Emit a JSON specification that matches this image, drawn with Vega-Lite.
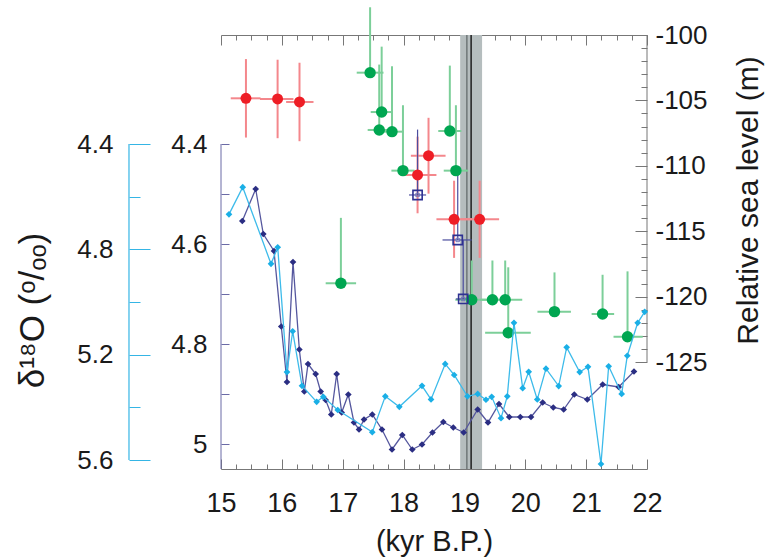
{
  "$schema": "https://vega.github.io/schema/vega-lite/v6.json",
  "width": 426,
  "height": 434,
  "autosize": {"type": "none"},
  "padding": {"left": 221, "top": 35, "right": 118, "bottom": 90},
  "background": "white",
  "config": {
    "view": {"stroke": null},
    "font": "Liberation Sans",
    "axis": {"grid": false, "labelFont": "Liberation Sans", "titleFont": "Liberation Sans", "labelColor": "#1a1a1a", "titleColor": "#1a1a1a", "titleFontWeight": "normal", "labelOverlap": false, "labelFlush": false}
  },
  "datasets": {
    "cyan": [
      {"kyr": 15.131, "d18O": 4.667}, {"kyr": 15.357, "d18O": 4.564}, {"kyr": 15.822, "d18O": 4.855}, {"kyr": 15.932, "d18O": 4.792},
      {"kyr": 16.084, "d18O": 5.266}, {"kyr": 16.178, "d18O": 5.111}, {"kyr": 16.331, "d18O": 5.318}, {"kyr": 16.572, "d18O": 5.379},
      {"kyr": 16.681, "d18O": 5.360}, {"kyr": 16.918, "d18O": 5.410}, {"kyr": 17.486, "d18O": 5.494}, {"kyr": 17.700, "d18O": 5.358},
      {"kyr": 17.930, "d18O": 5.398}, {"kyr": 18.303, "d18O": 5.318}, {"kyr": 18.451, "d18O": 5.370}, {"kyr": 18.684, "d18O": 5.235},
      {"kyr": 18.832, "d18O": 5.277}, {"kyr": 19.050, "d18O": 5.358}, {"kyr": 19.218, "d18O": 5.349}, {"kyr": 19.354, "d18O": 5.371},
      {"kyr": 19.448, "d18O": 5.360}, {"kyr": 19.601, "d18O": 5.441}, {"kyr": 19.704, "d18O": 5.358}, {"kyr": 19.814, "d18O": 5.079},
      {"kyr": 19.957, "d18O": 5.327}, {"kyr": 20.056, "d18O": 5.265}, {"kyr": 20.197, "d18O": 5.370}, {"kyr": 20.340, "d18O": 5.253},
      {"kyr": 20.549, "d18O": 5.319}, {"kyr": 20.680, "d18O": 5.172}, {"kyr": 20.894, "d18O": 5.266}, {"kyr": 21.030, "d18O": 5.246},
      {"kyr": 21.244, "d18O": 5.615}, {"kyr": 21.370, "d18O": 5.244}, {"kyr": 21.584, "d18O": 5.349}, {"kyr": 21.676, "d18O": 5.204},
      {"kyr": 21.847, "d18O": 5.079}, {"kyr": 21.962, "d18O": 5.037}
    ],
    "navy": [
      {"kyr": 15.350, "d18O": 4.554}, {"kyr": 15.570, "d18O": 4.490}, {"kyr": 15.695, "d18O": 4.580}, {"kyr": 15.871, "d18O": 4.614},
      {"kyr": 15.991, "d18O": 4.765}, {"kyr": 16.084, "d18O": 4.876}, {"kyr": 16.183, "d18O": 4.636}, {"kyr": 16.287, "d18O": 4.811},
      {"kyr": 16.369, "d18O": 4.895}, {"kyr": 16.430, "d18O": 4.840}, {"kyr": 16.556, "d18O": 4.860}, {"kyr": 16.638, "d18O": 4.895},
      {"kyr": 16.720, "d18O": 4.912}, {"kyr": 16.812, "d18O": 4.941}, {"kyr": 16.901, "d18O": 4.860}, {"kyr": 16.983, "d18O": 4.937},
      {"kyr": 17.092, "d18O": 4.901}, {"kyr": 17.185, "d18O": 4.957}, {"kyr": 17.268, "d18O": 4.971}, {"kyr": 17.350, "d18O": 4.951},
      {"kyr": 17.486, "d18O": 4.941}, {"kyr": 17.645, "d18O": 4.971}, {"kyr": 17.810, "d18O": 5.011}, {"kyr": 17.979, "d18O": 4.982},
      {"kyr": 18.143, "d18O": 5.011}, {"kyr": 18.303, "d18O": 5.001}, {"kyr": 18.475, "d18O": 4.977}, {"kyr": 18.653, "d18O": 4.956},
      {"kyr": 18.817, "d18O": 4.967}, {"kyr": 18.988, "d18O": 4.977}, {"kyr": 19.218, "d18O": 4.931}, {"kyr": 19.387, "d18O": 4.957},
      {"kyr": 19.568, "d18O": 4.920}, {"kyr": 19.737, "d18O": 4.946}, {"kyr": 19.918, "d18O": 4.946}, {"kyr": 20.094, "d18O": 4.946},
      {"kyr": 20.286, "d18O": 4.917}, {"kyr": 20.460, "d18O": 4.927}, {"kyr": 20.631, "d18O": 4.931}, {"kyr": 20.805, "d18O": 4.901},
      {"kyr": 21.019, "d18O": 4.911}, {"kyr": 21.272, "d18O": 4.881}, {"kyr": 21.535, "d18O": 4.886}, {"kyr": 21.786, "d18O": 4.855}
    ],
    "red": [
      {"kyr": 15.41, "sl": -104.84, "kyr_lo": 15.16, "kyr_hi": 15.65, "sl_lo": -107.84, "sl_hi": -101.84},
      {"kyr": 15.93, "sl": -104.89, "kyr_lo": 15.64, "kyr_hi": 16.19, "sl_lo": -107.89, "sl_hi": -101.89},
      {"kyr": 16.29, "sl": -105.12, "kyr_lo": 16.07, "kyr_hi": 16.52, "sl_lo": -108.12, "sl_hi": -102.12},
      {"kyr": 18.41, "sl": -109.23, "kyr_lo": 18.12, "kyr_hi": 18.69, "sl_lo": -112.13, "sl_hi": -106.33},
      {"kyr": 18.23, "sl": -110.70, "kyr_lo": 17.99, "kyr_hi": 18.54, "sl_lo": -113.63, "sl_hi": -107.77},
      {"kyr": 18.83, "sl": -114.09, "kyr_lo": 18.54, "kyr_hi": 19.13, "sl_lo": -117.04, "sl_hi": -111.14},
      {"kyr": 19.25, "sl": -114.09, "kyr_lo": 18.94, "kyr_hi": 19.57, "sl_lo": -117.04, "sl_hi": -111.14}
    ],
    "green": [
      {"kyr": 17.45, "sl": -102.88, "kyr_lo": 17.23, "kyr_hi": 17.67, "sl_hi": -97.88},
      {"kyr": 17.64, "sl": -105.89, "kyr_lo": 17.46, "kyr_hi": 17.82, "sl_hi": -100.89},
      {"kyr": 17.60, "sl": -107.26, "kyr_lo": 17.41, "kyr_hi": 17.79, "sl_hi": -102.26},
      {"kyr": 17.81, "sl": -107.39, "kyr_lo": 17.62, "kyr_hi": 18.00, "sl_hi": -102.39},
      {"kyr": 17.99, "sl": -110.37, "kyr_lo": 17.80, "kyr_hi": 18.18, "sl_hi": -105.37},
      {"kyr": 18.76, "sl": -107.34, "kyr_lo": 18.57, "kyr_hi": 18.95, "sl_hi": -102.34},
      {"kyr": 18.86, "sl": -110.37, "kyr_lo": 18.66, "kyr_hi": 19.06, "sl_hi": -105.37},
      {"kyr": 19.12, "sl": -120.24, "kyr_lo": 18.85, "kyr_hi": 19.39, "sl_hi": -117.24},
      {"kyr": 19.46, "sl": -120.24, "kyr_lo": 19.26, "kyr_hi": 19.66, "sl_hi": -117.24},
      {"kyr": 19.67, "sl": -120.24, "kyr_lo": 19.39, "kyr_hi": 19.95, "sl_hi": -117.24},
      {"kyr": 19.72, "sl": -122.76, "kyr_lo": 19.34, "kyr_hi": 20.09, "sl_hi": -117.76},
      {"kyr": 20.48, "sl": -121.15, "kyr_lo": 20.20, "kyr_hi": 20.75, "sl_hi": -118.15},
      {"kyr": 21.27, "sl": -121.33, "kyr_lo": 21.09, "kyr_hi": 21.46, "sl_hi": -118.33},
      {"kyr": 21.68, "sl": -123.07, "kyr_lo": 21.45, "kyr_hi": 21.93, "sl_hi": -118.07},
      {"kyr": 16.97, "sl": -118.98, "kyr_lo": 16.72, "kyr_hi": 17.22, "sl_hi": -113.98}
    ],
    "squares": [
      {"kyr": 18.23, "sl": -112.23, "kyr_lo": 18.09, "kyr_hi": 18.37, "sl_hi": -107.23},
      {"kyr": 18.89, "sl": -115.67, "kyr_lo": 18.64, "kyr_hi": 19.12, "sl_hi": -110.67},
      {"kyr": 18.98, "sl": -120.18, "kyr_lo": 18.86, "kyr_hi": 19.12, "sl_hi": -115.67}
    ],
    "band": [{"start": 18.93, "end": 19.29}],
    "vlines": [{"kyr": 19.04, "kind": "edge"}, {"kyr": 19.11, "kind": "mean"}],
    "frame_right": [{"kyr": 22, "top": -100, "bottom": -125}],
    "frame_navy": [{"kyr": 15, "top": 4.4, "bottom": 5.05}],
    "frame_cyan": [{"kyr": 13.488, "top": 4.4, "bottom": 5.6}]
  },
  "layer": [
    {
      "layer": [
        {
          "data": {"name": "band"},
          "mark": {"type": "rect", "color": "#b5bdbe"},
          "encoding": {
            "x": {"field": "start", "type": "quantitative", "scale": {"domain": [15, 22], "nice": false, "zero": false},
              "axis": {"orient": "bottom", "values": [15,16,17,18,19,20,21,22], "format": "d",
                "tickSize": -10, "tickColor": "#777", "domainColor": "#777", "labelPadding": 31, "labelFontSize": 27,
                "title": "(kyr B.P.)", "titleFontSize": 29, "titlePadding": 11}},
            "x2": {"field": "end"}
          }
        },
        {
          "data": {"name": "vlines"},
          "mark": {"type": "rule", "strokeWidth": 1.5},
          "encoding": {
            "x": {"field": "kyr", "type": "quantitative", "scale": {"domain": [15, 22], "nice": false, "zero": false},
              "axis": {"orient": "bottom", "values": [15.25,15.5,15.75,16.25,16.5,16.75,17.25,17.5,17.75,18.25,18.5,18.75,19.25,19.5,19.75,20.25,20.5,20.75,21.25,21.5,21.75],
                "labels": false, "domain": false, "tickSize": -5, "tickColor": "#777", "title": null}},
            "color": {"field": "kind", "type": "nominal", "scale": {"domain": ["edge", "mean"], "range": ["#6f7778", "#1e1e1e"]}, "legend": null}
          }
        },
        {
          "data": {"name": "frame_right"},
          "mark": {"type": "rule", "color": "#777", "strokeWidth": 1},
          "encoding": {
            "x": {"field": "kyr", "type": "quantitative", "scale": {"domain": [15, 22], "nice": false, "zero": false},
              "axis": {"orient": "top", "values": [15,16,17,18,19,20,21,22], "labels": false, "tickSize": -10, "tickColor": "#777", "domainColor": "#777", "title": null}},
            "y": {"field": "top", "type": "quantitative", "scale": {"domain": [-133.18, -100], "nice": false, "zero": false}, "axis": null},
            "y2": {"field": "bottom"}
          }
        },
        {
          "data": {"name": "green"},
          "mark": {"type": "rule", "color": "#7ccf99", "strokeWidth": 2},
          "encoding": {
            "x": {"field": "kyr", "type": "quantitative", "scale": {"domain": [15, 22], "nice": false, "zero": false},
              "axis": {"orient": "top", "values": [15.25,15.5,15.75,16.25,16.5,16.75,17.25,17.5,17.75,18.25,18.5,18.75,19.25,19.5,19.75,20.25,20.5,20.75,21.25,21.5,21.75],
                "labels": false, "domain": false, "tickSize": -5, "tickColor": "#777", "title": null}},
            "y": {"field": "sl", "type": "quantitative", "scale": {"domain": [-133.18, -100], "nice": false, "zero": false}, "axis": null},
            "y2": {"field": "sl_hi"}
          }
        },
        {
          "data": {"name": "green"},
          "mark": {"type": "rule", "color": "#7ccf99", "strokeWidth": 2},
          "encoding": {
            "x": {"field": "kyr_lo", "type": "quantitative", "scale": {"domain": [15, 22], "nice": false, "zero": false}, "axis": null},
            "x2": {"field": "kyr_hi"},
            "y": {"field": "sl", "type": "quantitative", "scale": {"domain": [-133.18, -100], "nice": false, "zero": false}, "axis": null}
          }
        },
        {
          "data": {"name": "red"},
          "mark": {"type": "rule", "color": "#f4878c", "strokeWidth": 2},
          "encoding": {
            "x": {"field": "kyr", "type": "quantitative", "scale": {"domain": [15, 22], "nice": false, "zero": false}, "axis": null},
            "y": {"field": "sl_lo", "type": "quantitative", "scale": {"domain": [-133.18, -100], "nice": false, "zero": false}, "axis": null},
            "y2": {"field": "sl_hi"}
          }
        },
        {
          "data": {"name": "red"},
          "mark": {"type": "rule", "color": "#f4878c", "strokeWidth": 2},
          "encoding": {
            "x": {"field": "kyr_lo", "type": "quantitative", "scale": {"domain": [15, 22], "nice": false, "zero": false}, "axis": null},
            "x2": {"field": "kyr_hi"},
            "y": {"field": "sl", "type": "quantitative", "scale": {"domain": [-133.18, -100], "nice": false, "zero": false}, "axis": null}
          }
        },
        {
          "data": {"name": "squares"},
          "mark": {"type": "rule", "color": "#4b4d9e", "strokeWidth": 1.2},
          "encoding": {
            "x": {"field": "kyr", "type": "quantitative", "scale": {"domain": [15, 22], "nice": false, "zero": false}, "axis": null},
            "y": {"field": "sl", "type": "quantitative", "scale": {"domain": [-133.18, -100], "nice": false, "zero": false}, "axis": null},
            "y2": {"field": "sl_hi"}
          }
        },
        {
          "data": {"name": "squares"},
          "mark": {"type": "rule", "color": "#4b4d9e", "strokeWidth": 1.2},
          "encoding": {
            "x": {"field": "kyr_lo", "type": "quantitative", "scale": {"domain": [15, 22], "nice": false, "zero": false}, "axis": null},
            "x2": {"field": "kyr_hi"},
            "y": {"field": "sl", "type": "quantitative", "scale": {"domain": [-133.18, -100], "nice": false, "zero": false}, "axis": null}
          }
        },
        {
          "data": {"name": "green"},
          "mark": {"type": "point", "shape": "circle", "filled": true, "color": "#00a651", "opacity": 1, "size": 130},
          "encoding": {
            "x": {"field": "kyr", "type": "quantitative", "scale": {"domain": [15, 22], "nice": false, "zero": false}, "axis": null},
            "y": {"field": "sl", "type": "quantitative", "scale": {"domain": [-133.18, -100], "nice": false, "zero": false},
              "axis": {"orient": "right", "values": [-101,-102,-103,-104,-106,-107,-108,-109,-111,-112,-113,-114,-116,-117,-118,-119,-121,-122,-123,-124],
                "labels": false, "domain": false, "tickSize": -6, "tickColor": "#777", "title": null}}
          }
        },
        {
          "data": {"name": "red"},
          "mark": {"type": "point", "shape": "circle", "filled": true, "color": "#ee1d25", "opacity": 1, "size": 120},
          "encoding": {
            "x": {"field": "kyr", "type": "quantitative", "scale": {"domain": [15, 22], "nice": false, "zero": false}, "axis": null},
            "y": {"field": "sl", "type": "quantitative", "scale": {"domain": [-133.18, -100], "nice": false, "zero": false},
              "axis": {"orient": "right", "values": [-100,-105,-110,-115,-120,-125],
                "labelExpr": "'' + datum.value",
                "tickSize": -12, "tickColor": "#777", "domain": false, "labelPadding": 20, "labelFontSize": 26, "labelBaseline": "middle",
                "title": "Relative sea level  (m)", "titleFontSize": 30, "titleAngle": 270,
                "titleX": 101, "titleY": 165, "titleAlign": "center", "titleBaseline": "middle"}}
          }
        },
        {
          "data": {"name": "squares"},
          "mark": {"type": "point", "shape": "square", "filled": false, "color": "#2e3192", "strokeWidth": 1.6, "opacity": 1, "size": 85},
          "encoding": {
            "x": {"field": "kyr", "type": "quantitative", "scale": {"domain": [15, 22], "nice": false, "zero": false}, "axis": null},
            "y": {"field": "sl", "type": "quantitative", "scale": {"domain": [-133.18, -100], "nice": false, "zero": false}, "axis": null}
          }
        },
        {
          "data": {"name": "squares"},
          "mark": {"type": "point", "shape": "square", "filled": false, "color": "#7072b8", "strokeWidth": 1, "opacity": 1, "size": 12},
          "encoding": {
            "x": {"field": "kyr", "type": "quantitative", "scale": {"domain": [15, 22], "nice": false, "zero": false}, "axis": null},
            "y": {"field": "sl", "type": "quantitative", "scale": {"domain": [-133.18, -100], "nice": false, "zero": false}, "axis": null}
          }
        }
      ],
      "resolve": {"axis": {"x": "independent", "y": "independent"}}
    },
    {
      "layer": [
        {
          "data": {"name": "frame_navy"},
          "mark": {"type": "rule", "color": "#6b6ba6", "strokeWidth": 1},
          "encoding": {
            "x": {"field": "kyr", "type": "quantitative", "scale": {"domain": [15, 22], "nice": false, "zero": false}, "axis": null},
            "y": {"field": "top", "type": "quantitative", "scale": {"domain": [4.182, 5.05], "reverse": true, "nice": false, "zero": false},
              "axis": {"orient": "left", "values": [4.5, 4.7, 4.9], "labels": false, "domain": false, "tickSize": -8, "tickColor": "#6b6ba6", "title": null}},
            "y2": {"field": "bottom"}
          }
        },
        {
          "data": {"name": "navy"},
          "mark": {"type": "line", "color": "#55579e", "strokeWidth": 1.3, "point": {"shape": "diamond", "size": 45, "filled": true, "color": "#2b2e83", "opacity": 1}},
          "encoding": {
            "x": {"field": "kyr", "type": "quantitative", "scale": {"domain": [15, 22], "nice": false, "zero": false}, "axis": null},
            "y": {"field": "d18O", "type": "quantitative", "scale": {"domain": [4.182, 5.05], "reverse": true, "nice": false, "zero": false},
              "axis": {"orient": "left", "values": [4.4, 4.6, 4.8, 5.0], "format": ".1~f",
                "tickSize": -8, "tickColor": "#6b6ba6", "domain": false, "labelPadding": 22, "labelFontSize": 26, "labelBaseline": "middle", "title": null}}
          }
        }
      ],
      "resolve": {"axis": {"y": "independent"}}
    },
    {
      "layer": [
        {
          "data": {"name": "frame_cyan"},
          "mark": {"type": "rule", "color": "#35b5e5", "strokeWidth": 1.2},
          "encoding": {
            "x": {"field": "kyr", "type": "quantitative", "scale": {"domain": [15, 22], "nice": false, "zero": false}, "axis": null},
            "y": {"field": "top", "type": "quantitative", "scale": {"domain": [3.986, 5.634], "reverse": true, "nice": false, "zero": false},
              "axis": {"orient": "left", "offset": 92, "values": [4.6, 5.0, 5.4], "labels": false, "domain": false, "tickSize": -11, "tickColor": "#35b5e5", "title": null}},
            "y2": {"field": "bottom"}
          }
        },
        {
          "data": {"name": "cyan"},
          "mark": {"type": "line", "color": "#3dbbea", "strokeWidth": 1.3, "point": {"shape": "diamond", "size": 45, "filled": true, "color": "#1aafe6", "opacity": 1}},
          "encoding": {
            "x": {"field": "kyr", "type": "quantitative", "scale": {"domain": [15, 22], "nice": false, "zero": false}, "axis": null},
            "y": {"field": "d18O", "type": "quantitative", "scale": {"domain": [3.986, 5.634], "reverse": true, "nice": false, "zero": false},
              "axis": {"orient": "left", "offset": 92, "values": [4.4, 4.8, 5.2, 5.6], "format": ".1f",
                "tickSize": -21, "tickColor": "#35b5e5", "domain": false, "labelPadding": 37, "labelFontSize": 26, "labelBaseline": "middle",
                "title": "δ¹⁸O (ᵒ/ₒₒ)", "titleFontSize": 35, "titleAngle": 270,
                "titleX": -97, "titleY": 275, "titleAlign": "center", "titleBaseline": "middle"}}
          }
        }
      ],
      "resolve": {"axis": {"y": "independent"}}
    }
  ],
  "resolve": {"scale": {"y": "independent"}, "axis": {"x": "independent", "y": "independent"}}
}
